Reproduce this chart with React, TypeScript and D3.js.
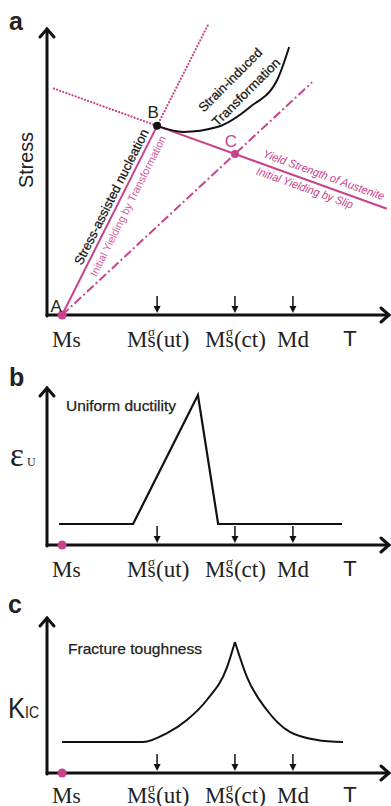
import React from 'react';
import * as d3 from 'd3';

// ---------- data (arbitrary units: T 0..100, property 0..100) ----------
const msT = 4.4;
const tickKeys = ['ut', 'ct', 'Md'];
const tickTs = [32.1, 54.8, 71.7];
const tLabelT = 88.3;

// panel a
const pointA: [number, number] = [4.4, 0];
const pointB: [number, number] = [32.1, 65.9];
const pointC: [number, number] = [54.8, 56.1];
const transLine: [number, number][] = [[4.4, 0], [32.1, 65.9]];
const transExt: [number, number][] = [[32.1, 65.9], [47.2, 101.7]];
const slipLine: [number, number][] = [[4.4, 0], [54.8, 56.1], [77.3, 81.1]];
const austDotted: [number, number][] = [[2.0, 78.9], [32.1, 65.9]];
const austLine: [number, number][] = [[32.1, 65.9], [54.8, 56.1], [99.1, 37.0]];
const strainCurve: [number, number][] = [[32.1, 65.9], [39.7, 63.8], [49.6, 65.5], [59.2, 72.5], [67.1, 81.9], [70.6, 93.4]];
const strainLabelPos: [number, number][] = [[53.4, 81.9], [58.0, 77.7]];
const strainLabels = ['Strain-induced', 'Transformation'];

// panel b
const ductility: [number, number][] = [[3.5, 13.3], [25.1, 13.3], [44.0, 94.9], [49.9, 13.3], [86.0, 13.3]];
// panel c
const toughRise: [number, number][] = [[4.4, 19.9], [28.0, 19.9], [35.0, 25.6], [40.8, 34.0], [46.6, 46.8], [52.5, 67.9], [54.8, 84.0]];
const toughFall: [number, number][] = [[54.8, 84.0], [58.3, 61.5], [64.1, 40.4], [70.8, 26.3], [78.7, 21.2], [86.3, 19.9]];

const PINK = '#c8428c';
const PINK_LIGHT = '#d3609f';
const SANS = 'Liberation Sans, Arial, sans-serif';
const SERIF = 'Liberation Serif, Times New Roman, serif';

const x = d3.scaleLinear().domain([0, 100]).range([47, 390]);
const yA = d3.scaleLinear().domain([0, 100]).range([315, 28]);
const yB = d3.scaleLinear().domain([0, 100]).range([545, 387]);
const yC = d3.scaleLinear().domain([0, 100]).range([773, 617]);

function mkLine(ys: d3.ScaleLinear<number, number>, curve: any = d3.curveLinear) {
  return d3.line<[number, number]>().x(d => x(d[0])).y(d => ys(d[1])).curve(curve);
}

function along(p0: [number, number], p1: [number, number], ys: any, frac: number) {
  const x0 = x(p0[0]), y0 = ys(p0[1]), x1 = x(p1[0]), y1 = ys(p1[1]);
  const ang = (Math.atan2(y1 - y0, x1 - x0) * 180) / Math.PI;
  return { px: x0 + (x1 - x0) * frac, py: y0 + (y1 - y0) * frac, ang };
}

function Axes({ ys, axisY }: { ys: any; axisY: number }) {
  const x0 = x(0), x1 = x(100);
  const top = ys(100);
  return (
    <g stroke="#111" strokeWidth={3} fill="none" strokeLinecap="round">
      <line x1={x0} y1={axisY + 1} x2={x0} y2={top + 1} />
      <polyline points={`${x0 - 7},${top + 9} ${x0},${top + 1} ${x0 + 7},${top + 9}`} />
      <line x1={x0} y1={axisY} x2={x1 - 1} y2={axisY} />
      <polyline points={`${x1 - 9},${axisY - 7} ${x1 - 1},${axisY} ${x1 - 9},${axisY + 7}`} />
    </g>
  );
}

function TickArrows({ axisY }: { axisY: number }) {
  return (
    <g>
      {tickTs.map((t, i) => (
        <g key={tickKeys[i]}>
          <line x1={x(t)} x2={x(t)} y1={axisY - 19} y2={axisY - 6} stroke="#111" strokeWidth={1.5} />
          <path d={`M${x(t) - 3.5},${axisY - 9} L${x(t) + 3.5},${axisY - 9} L${x(t)},${axisY - 2} Z`} fill="#111" />
        </g>
      ))}
    </g>
  );
}

function SigmaLabel({ cx, base, tail }: { cx: number; base: number; tail: string }) {
  return (
    <g fontFamily={SERIF} fill="#222">
      <text x={cx - 30} y={base} fontSize={23}>M</text>
      <text x={cx - 9} y={base - 11} fontSize={13}>σ</text>
      <text x={cx - 9.5} y={base} fontSize={21}>s</text>
      <text x={cx - 1} y={base} fontSize={23}>{tail}</text>
    </g>
  );
}

function XLabels({ base }: { base: number }) {
  return (
    <g>
      <text x={x(msT) - 10} y={base} fontFamily={SERIF} fontSize={23} fill="#222">M<tspan fontSize={21}>s</tspan></text>
      <SigmaLabel cx={x(tickTs[0])} base={base} tail="(ut)" />
      <SigmaLabel cx={x(tickTs[1])} base={base} tail="(ct)" />
      <text x={x(tickTs[2])} y={base} fontFamily={SERIF} fontSize={23} fill="#222" textAnchor="middle">Md</text>
      <text x={x(tLabelT)} y={base - 1} fontFamily={SANS} fontSize={22} fill="#222" textAnchor="middle">T</text>
    </g>
  );
}

export default function App() {
  const lineA = mkLine(yA);
  const dotStyle = { stroke: PINK, strokeWidth: 2.2, strokeDasharray: '0.1 3.2', strokeLinecap: 'round' as const, fill: 'none' };
  const abTxt1 = along(pointA, pointB, yA, 0.603);
  const abTxt2 = along(pointA, pointB, yA, 0.6);
  const bEnd: [number, number] = austLine[austLine.length - 1];
  const austTxt1 = along(pointB, bEnd, yA, 0.71);
  const austTxt2 = along(pointB, bEnd, yA, 0.655);
  const heavy = { stroke: '#222', strokeWidth: 0.25 };

  return (
    <svg width={391} height={806} style={{ position: 'absolute', left: 0, top: 0, background: '#fff' }}>
      {/* ---------- panel a ---------- */}
      <text x={9} y={30} fontFamily={SANS} fontWeight="bold" fontSize={25} fill="#222">a</text>
      <text transform="translate(33,160) rotate(-90)" textAnchor="middle" fontFamily={SANS} fontSize={21} fill="#222" textLength={56} lengthAdjust="spacingAndGlyphs">Stress</text>
      <path d={lineA(transExt) || ''} {...dotStyle} />
      <path d={lineA(austDotted) || ''} {...dotStyle} />
      <path d={lineA(transLine) || ''} stroke={PINK} strokeWidth={2} fill="none" />
      <path d={lineA(austLine) || ''} stroke={PINK} strokeWidth={2} fill="none" />
      <path d={lineA(slipLine) || ''} stroke={PINK} strokeWidth={2} fill="none" strokeDasharray="9 3 2 3" />
      <path d={mkLine(yA, d3.curveMonotoneX)(strainCurve) || ''} stroke="#111" strokeWidth={2} fill="none" />
      <Axes ys={yA} axisY={315} />
      <TickArrows axisY={315} />
      <XLabels base={347} />

      <text transform={`translate(${abTxt1.px},${abTxt1.py}) rotate(${abTxt1.ang})`} y={-9} dy="0.35em" textAnchor="middle" fontFamily={SANS} fontSize={13} fill="#111" {...heavy} textLength={150} lengthAdjust="spacingAndGlyphs">Stress-assisted nucleation</text>
      <text transform={`translate(${abTxt2.px},${abTxt2.py}) rotate(${abTxt2.ang})`} y={10} dy="0.35em" textAnchor="middle" fontFamily={SANS} fontSize={11} fill={PINK_LIGHT} textLength={156} lengthAdjust="spacingAndGlyphs">Initial Yielding by Transformation</text>
      <text transform={`translate(${austTxt1.px},${austTxt1.py}) rotate(${austTxt1.ang})`} y={-10.5} dy="0.35em" textAnchor="middle" fontFamily={SANS} fontStyle="italic" fontSize={11.5} fill={PINK} textLength={128} lengthAdjust="spacingAndGlyphs">Yield Strength of Austenite</text>
      <text transform={`translate(${austTxt2.px},${austTxt2.py}) rotate(${austTxt2.ang})`} y={8} dy="0.35em" textAnchor="middle" fontFamily={SANS} fontStyle="italic" fontSize={11.5} fill={PINK} textLength={102} lengthAdjust="spacingAndGlyphs">Initial Yielding by Slip</text>
      {strainLabels.map((s, i) => (
        <text key={s} transform={`translate(${x(strainLabelPos[i][0])},${yA(strainLabelPos[i][1])}) rotate(-45)`} dy="0.35em" textAnchor="middle" fontFamily={SANS} fontSize={13} fill="#111" {...heavy} textLength={i === 0 ? 84 : 90} lengthAdjust="spacingAndGlyphs">{s}</text>
      ))}

      <circle cx={x(pointB[0])} cy={yA(pointB[1])} r={4} fill="#111" />
      <circle cx={x(pointC[0])} cy={yA(pointC[1])} r={4} fill={PINK} />
      <circle cx={x(pointA[0])} cy={yA(pointA[1])} r={4.5} fill={PINK} />
      <text x={x(pointA[0]) - 6} y={yA(pointA[1]) - 3} textAnchor="middle" fontFamily={SANS} fontSize={17} fill="#222">A</text>
      <text x={x(pointB[0]) - 4} y={yA(pointB[1]) - 8} textAnchor="middle" fontFamily={SANS} fontSize={17} fill="#222">B</text>
      <text x={x(pointC[0]) - 4} y={yA(pointC[1]) - 7} textAnchor="middle" fontFamily={SANS} fontSize={17} fill={PINK}>C</text>

      {/* ---------- panel b ---------- */}
      <text x={9} y={386} fontFamily={SANS} fontWeight="bold" fontSize={25} fill="#222">b</text>
      <text x={10} y={466} fontFamily={SERIF} fontSize={33} fill="#222">ε</text>
      <text x={27} y={466} fontFamily={SERIF} fontSize={12} fill="#222">U</text>
      <text x={66} y={411} fontFamily={SANS} fontSize={14.5} fill="#222" {...heavy} textLength={110} lengthAdjust="spacingAndGlyphs">Uniform ductility</text>
      <path d={mkLine(yB)(ductility) || ''} stroke="#111" strokeWidth={2.2} fill="none" strokeLinejoin="miter" />
      <Axes ys={yB} axisY={545} />
      <TickArrows axisY={545} />
      <circle cx={x(msT)} cy={545} r={4.5} fill={PINK} />
      <XLabels base={577} />

      {/* ---------- panel c ---------- */}
      <text x={8} y={613} fontFamily={SANS} fontWeight="bold" fontSize={25} fill="#222">c</text>
      <text x={8} y={718} fontFamily={SANS} fontSize={30} fill="#222" textLength={17} lengthAdjust="spacingAndGlyphs">K</text>
      <text x={25} y={718} fontFamily={SANS} fontSize={17} fill="#222" textLength={14} lengthAdjust="spacingAndGlyphs">IC</text>
      <text x={68} y={654} fontFamily={SANS} fontSize={15} fill="#222" {...heavy} textLength={134} lengthAdjust="spacingAndGlyphs">Fracture toughness</text>
      <path d={mkLine(yC, d3.curveMonotoneX)(toughRise) || ''} stroke="#111" strokeWidth={2} fill="none" />
      <path d={mkLine(yC, d3.curveMonotoneX)(toughFall) || ''} stroke="#111" strokeWidth={2} fill="none" />
      <Axes ys={yC} axisY={773} />
      <TickArrows axisY={773} />
      <circle cx={x(msT)} cy={773} r={4.5} fill={PINK} />
      <XLabels base={803} />
    </svg>
  );
}
